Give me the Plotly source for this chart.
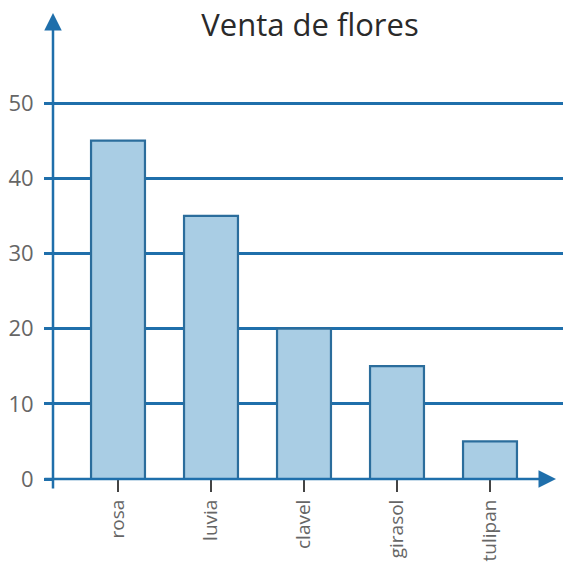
import plotly.graph_objects as go

categories = ["rosa", "luvia", "clavel", "girasol", "tulipan"]
values = [45, 35, 20, 15, 5]
y_ticks = [0, 10, 20, 30, 40, 50]

W, H = 563, 562
L, R, T, B = 53, 0, 10, 83
BLUE = "#1f6fab"
FILL = "#a9cde4"
EDGE = "#2b6d9c"
GRAY = "#666666"

fig = go.Figure(go.Bar(
    x=list(range(len(categories))), y=values, width=0.58,
    marker=dict(color=FILL, line=dict(color=EDGE, width=2.2)),
))

fig.update_layout(
    width=W, height=H,
    margin=dict(l=L, r=R, t=T, b=B, pad=0),
    plot_bgcolor="white", paper_bgcolor="white",
    showlegend=False,
    font=dict(family="Open Sans", color=GRAY),
    xaxis=dict(
        range=[-0.699, 4.785], tickmode="array",
        tickvals=list(range(len(categories))), ticktext=categories,
        tickangle=-90, ticks="outside", ticklen=12, tickwidth=1.5,
        tickcolor="#444", showgrid=False, zeroline=False, showline=False,
        tickfont=dict(size=19, color=GRAY), fixedrange=True,
    ),
    yaxis=dict(
        range=[0, 62.37], tickmode="array", tickvals=y_ticks,
        ticks="outside", ticklen=8, tickwidth=2.5, tickcolor=BLUE,
        showgrid=True, gridcolor=BLUE, gridwidth=2.5, zeroline=False,
        showline=False, tickfont=dict(size=22, color=GRAY),
        ticklabelstandoff=6, fixedrange=True,
    ),
    title=dict(text="Venta de flores", x=310 / W, xanchor="center",
               y=1 - 25 / H, yanchor="middle",
               font=dict(size=31, color="#2a2a2a", family="Open Sans")),
)

plot_h = H - T - B
plot_w = W - L - R
# axis arrows
fig.add_annotation(x=0, y=(H - B - 13) / plot_h,
                   xref="paper", yref="paper", showarrow=True,
                   ax=0, ay=(490 - 13),
                   arrowhead=2, arrowsize=1.4, arrowwidth=2.5, arrowcolor=BLUE, text="")
fig.add_annotation(x=(556 - L) / plot_w, y=0, xref="paper", yref="paper",
                   showarrow=True, ax=-(556 - 43), ay=0,
                   arrowhead=2, arrowsize=1.4, arrowwidth=2.5, arrowcolor=BLUE, text="")

fig.write_html("out.html", config={"displayModeBar": False},
               post_script="document.body.style.margin='0';")
